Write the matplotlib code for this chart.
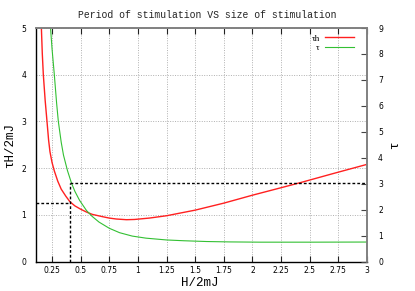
import matplotlib
matplotlib.use("Agg")
import matplotlib.pyplot as plt

# --- data ---
h_red = [0.157, 0.165, 0.174, 0.19, 0.206, 0.22, 0.232, 0.25, 0.27, 0.30, 0.33, 0.37,
         0.406, 0.45, 0.5, 0.55, 0.6, 0.69, 0.75, 0.81, 0.9, 0.97, 1.1, 1.25, 1.5,
         1.75, 2.0, 2.25, 2.42, 2.7, 3.0]
tauH = [5.0, 4.45, 4.0, 3.45, 3.0, 2.6, 2.35, 2.12, 1.94, 1.72, 1.55, 1.40,
        1.28, 1.19, 1.12, 1.06, 1.01, 0.96, 0.93, 0.91, 0.895, 0.9, 0.93, 0.98, 1.10,
        1.25, 1.42, 1.58, 1.69, 1.88, 2.08]

h_green = [0.237, 0.25, 0.27, 0.29, 0.305, 0.33, 0.35, 0.385, 0.42, 0.45, 0.49, 0.55,
           0.6, 0.66, 0.75, 0.84, 0.95, 1.07, 1.25, 1.4, 1.6, 1.8, 2.07, 2.5, 3.0]
tau = [9.0, 8.2, 7.2, 6.1, 5.4, 4.6, 4.1, 3.5, 3.02, 2.7, 2.36, 1.97,
       1.74, 1.52, 1.28, 1.11, 0.98, 0.9, 0.83, 0.8, 0.77, 0.755, 0.745, 0.745, 0.75]

marker_h = 0.405
marker_tauH = 1.26
marker_tau = 3.03

xticks = [0.25, 0.5, 0.75, 1, 1.25, 1.5, 1.75, 2, 2.25, 2.5, 2.75, 3]
xticklabels = ["0.25", "0.5", "0.75", "1", "1.25", "1.5", "1.75", "2", "2.25", "2.5", "2.75", "3"]
yticks = [0, 1, 2, 3, 4, 5]
y2ticks = [0, 1, 2, 3, 4, 5, 6, 7, 8, 9]

title = "Period of stimulation VS size of stimulation"
xlabel = "H/2mJ"
ylabel = "τH/2mJ"
y2label = "τ"
legend_labels = ["τh", "τ"]

XMIN, XMAX = 0.11, 3.0

fig = plt.figure(figsize=(4.15, 2.91), dpi=100)
ax = fig.add_axes([36/415, 1-261.5/291, (367-36)/415, (261.5-28)/291])
ax2 = ax.twinx()

tick_font = dict(family="DejaVu Sans", size=5.5)
mono = ["Liberation Mono", "DejaVu Sans Mono"]

l1, = ax.plot(h_red, tauH, color="#ff2020", lw=1.0)
l2, = ax2.plot(h_green, tau, color="#33c033", lw=0.8)

dash = (0, (2, 1.5))
ax.plot([XMIN, marker_h], [marker_tauH, marker_tauH], color="black", lw=1.0, ls=dash)
ax.plot([marker_h, marker_h], [0, marker_tau * 5 / 9], color="black", lw=1.0, ls=dash)
ax2.plot([marker_h, XMAX], [marker_tau, marker_tau], color="black", lw=1.0, ls=dash)

ax.set_xlim(XMIN, XMAX)
ax.set_ylim(0, 5)
ax2.set_ylim(0, 9)

ax.set_xticks(xticks)
ax.set_xticklabels(xticklabels, fontdict=tick_font)
ax.set_yticks(yticks)
ax.set_yticklabels([str(v) for v in yticks], fontdict=tick_font)
ax2.set_yticks(y2ticks)
ax2.set_yticklabels([str(v) for v in y2ticks], fontdict=tick_font)

ax.tick_params(axis="x", direction="in", length=4, width=0.8, top=True, pad=3, color="#222")
ax.tick_params(axis="y", direction="in", length=0, pad=7)
ax2.tick_params(axis="y", direction="in", length=4, width=0.8, pad=8, color="#444")

ax.grid(True, color="#b0b0b0", ls=(0, (1, 1.5)), lw=0.7)

for s in ["left", "bottom"]:
    ax.spines[s].set_color("black")
    ax.spines[s].set_linewidth(1.0)
for s in ["top", "right"]:
    ax.spines[s].set_color("#808080")
    ax.spines[s].set_linewidth(1.2)
    ax2.spines[s].set_color("#808080")
    ax2.spines[s].set_linewidth(1.2)
ax2.spines["left"].set_visible(False)
ax2.spines["bottom"].set_visible(False)

fig.text(0.5, 1 - 15/291, title, ha="center", va="center", family=mono, size=7, color="#222")
fig.text(200/415, 1 - 283/291, xlabel, ha="center", va="center", family=mono, size=9)
fig.text(10/415, 1 - 145/291, ylabel, ha="center", va="center", family=mono, size=9, rotation=90)
fig.text(395/415, 1 - 145/291, y2label, ha="center", va="center", family=mono, size=9, rotation=90)

leg = ax.legend([l1, l2], legend_labels, loc="upper right", markerfirst=False, frameon=False,
                prop=dict(family=["Liberation Serif", "DejaVu Serif"], size=6.5),
                handlelength=3.2, handletextpad=0.6, labelspacing=0.1,
                borderaxespad=0.3, bbox_to_anchor=(0.98, 1.0))
for t in leg.get_texts():
    t.set_ha("right")

fig.savefig("out.png", dpi=100)
